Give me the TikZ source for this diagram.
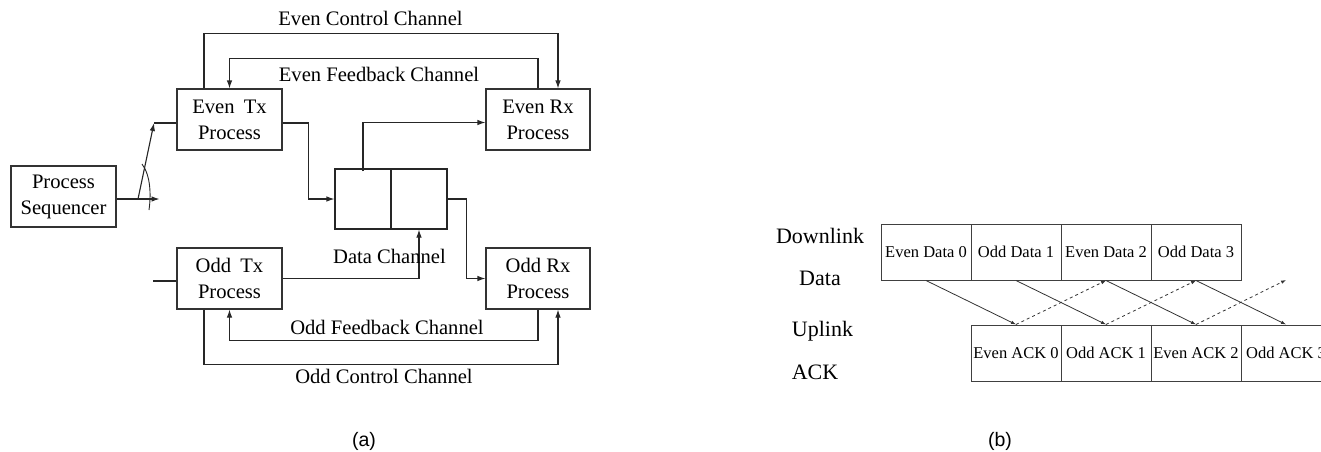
\documentclass[tikz,border=0pt]{standalone}
\usepackage{fontspec}
\setmainfont{Liberation Serif}
\newfontfamily\capfont{Liberation Sans}
\usetikzlibrary{arrows.meta,calc}
\tikzset{
  ln/.style={draw=black!85, line width=1.1pt},
  arr/.style={ln, -{Latex[length=8pt,width=5.5pt]}},
  proc/.style={draw=black!80, line width=1.1pt, minimum width=105pt, minimum height=61pt,
    inner sep=0pt, align=center, font=\fontsize{20.6}{26}\selectfont},
  dcell/.style={draw=black!85, line width=1.1pt, minimum width=56pt, minimum height=60pt, inner sep=0pt},
  chlabel/.style={font=\fontsize{20.6}{24}\selectfont, inner sep=0pt},
  cell/.style={draw=black!75, line width=1pt, minimum width=90pt, minimum height=56pt,
    inner sep=0pt, font=\fontsize{16.5}{20}\selectfont},
  rowlabel/.style={font=\fontsize{22}{26}\selectfont, inner sep=0pt},
  thin/.style={draw=black!80, line width=0.8pt, -{Latex[length=5pt,width=3.5pt]}},
  sublabel/.style={font=\capfont\fontsize{19.5}{22}\selectfont, inner sep=0pt}
}
\begin{document}
\begin{tikzpicture}[x=1pt, y=-1pt]
\useasboundingbox (0,0) rectangle (1321,451);
\clip (0,0) rectangle (1321,451);

% ---------- (a) process structure ----------
\node[proc] (seq) at (63.5,196.5) {Process\\Sequencer};
\node[proc] (etx) at (229.5,119.5) {Even\hskip0.45em Tx\\Process};
\node[proc, minimum width=104pt] (erx) at (538,119.5) {Even Rx\\Process};
\node[proc] (otx) at (229.5,278.5) {Odd\hskip0.45em Tx\\Process};
\node[proc, minimum width=104pt] (orx) at (538,278.5) {Odd Rx\\Process};
\node[dcell] (dl) at (363,199) {};
\node[dcell] (dr) at (419,199) {};

% control and feedback channels
\draw[arr] ([xshift=-25.5pt]etx.north) -- ++(0,-55) -| ([xshift=20pt]erx.north);
\draw[arr] (erx.north) -- ++(0,-30) -| (etx.north);
\draw[arr] (orx.south) -- ++(0,31) -| (otx.south);
\draw[arr] ([xshift=-25.5pt]otx.south) -- ++(0,55) -| ([xshift=20pt]orx.south);

% data channel
\draw[arr] ([yshift=-3.5pt]etx.east) -- ++(26,0) |- (dl.west);
\draw[arr] ([yshift=-3pt]dl.north) |- ([yshift=-3pt]erx.west);
\draw[arr] (dr.east) -- ++(19,0) |- (orx.west);
\draw[arr] (otx.east) -| (dr.south);

% sequencer switch
\coordinate (swbase) at (138,199);
\coordinate (swtop) at (154,123);
\draw[arr] ([yshift=-2.5pt]seq.east) -- ++(43,0);
\draw[ln] ([yshift=-3.5pt]etx.west) -- (swtop);
\draw[arr] (swbase) -- (swtop);
\draw[ln, line width=0.9pt] (142,164) .. controls (151,176) and (151,196) .. (149,210);
\draw[ln] ([yshift=-2.5pt]otx.west) -- ++(-23,0);

% channel labels
\node[chlabel] (lec) at (370.5,18) {Even Control Channel};
\node[chlabel] (lef) at (379,74) {Even Feedback Channel};
\node[chlabel] (ldc) at (389.5,256) {Data Channel};
\node[chlabel] (lof) at (387,327) {Odd Feedback Channel};
\node[chlabel] (loc) at (384,376) {Odd Control Channel};
\node[sublabel] (cap a) at (364,441) {(a)};

% ---------- (b) timing of data and acknowledgements ----------
\node[rowlabel] (dl1) at (820,236) {Downlink};
\node[rowlabel] (dl2) at (820,278) {Data};
\node[rowlabel] (ul1) at (822.5,331) {Uplink};
\node[rowlabel] (ul2) at (815,372) {ACK};

\node[cell] (d0) at (926,252) {Even Data 0};
\node[cell] (d1) at (1016,252) {Odd Data 1};
\node[cell] (d2) at (1106,252) {Even Data 2};
\node[cell] (d3) at (1196,252) {Odd Data 3};
\coordinate (d4) at (1286,280);

\node[cell] (a0) at (1016,353) {Even ACK 0};
\node[cell] (a1) at (1106,353) {Odd ACK 1};
\node[cell] (a2) at (1196,353) {Even ACK 2};
\node[cell] (a3) at (1286,353) {Odd ACK 3};

\foreach \i in {0,1,2,3} \draw[thin] (d\i.south) -- (a\i.north);
\draw[thin, dashed] (a0.north) -- (d2.south);
\draw[thin, dashed] (a1.north) -- (d3.south);
\draw[thin, dashed] (a2.north) -- (d4);

\node[sublabel] (cap b) at (1000,441) {(b)};
\end{tikzpicture}
\end{document}
